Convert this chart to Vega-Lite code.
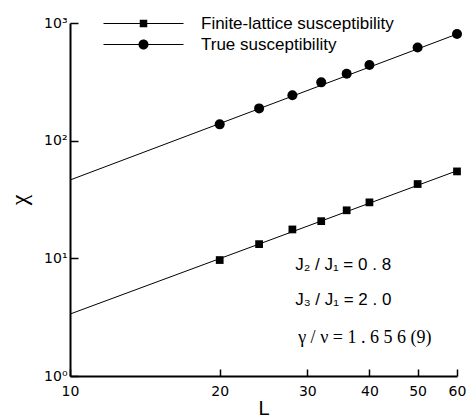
{
  "$schema": "https://vega.github.io/schema/vega-lite/v6.json",
  "width": 387,
  "height": 353,
  "autosize": {"type": "none"},
  "padding": {"left": 70, "top": 23, "right": 11, "bottom": 42},
  "background": "white",
  "config": {
    "view": {"stroke": null},
    "font": "Liberation Sans",
    "axis": {
      "labelFont": "Liberation Sans",
      "titleFont": "Liberation Sans",
      "titleFontWeight": "normal",
      "labelColor": "black",
      "titleColor": "black",
      "domainColor": "black",
      "domainWidth": 2,
      "tickColor": "black",
      "tickWidth": 1.5,
      "grid": false,
      "labelFlush": false,
      "labelOverlap": false
    }
  },
  "datasets": {
    "points": [
      {"L": 20, "chi": 9.67, "series": "Finite-lattice susceptibility"},
      {"L": 24, "chi": 13.2, "series": "Finite-lattice susceptibility"},
      {"L": 28, "chi": 17.6, "series": "Finite-lattice susceptibility"},
      {"L": 32, "chi": 20.7, "series": "Finite-lattice susceptibility"},
      {"L": 36, "chi": 25.6, "series": "Finite-lattice susceptibility"},
      {"L": 40, "chi": 29.9, "series": "Finite-lattice susceptibility"},
      {"L": 50, "chi": 42.8, "series": "Finite-lattice susceptibility"},
      {"L": 60, "chi": 54.8, "series": "Finite-lattice susceptibility"},
      {"L": 20, "chi": 137.6, "series": "True susceptibility"},
      {"L": 24, "chi": 188, "series": "True susceptibility"},
      {"L": 28, "chi": 243, "series": "True susceptibility"},
      {"L": 32, "chi": 313, "series": "True susceptibility"},
      {"L": 36, "chi": 370, "series": "True susceptibility"},
      {"L": 40, "chi": 439, "series": "True susceptibility"},
      {"L": 50, "chi": 620, "series": "True susceptibility"},
      {"L": 60, "chi": 805, "series": "True susceptibility"}
    ],
    "fits": [
      {"L": 10, "chi": 3.36, "series": "Finite-lattice susceptibility"},
      {"L": 60, "chi": 55.5, "series": "Finite-lattice susceptibility"},
      {"L": 10, "chi": 46.3, "series": "True susceptibility"},
      {"L": 60, "chi": 805, "series": "True susceptibility"}
    ],
    "notesSans": [
      {"L": 28.36, "chi": 8.03, "text": "J₂ / J₁ = 0 . 8"},
      {"L": 28.36, "chi": 4.01, "text": "J₃ / J₁ = 2 . 0"}
    ],
    "notesSerif": [
      {"L": 28.76, "chi": 1.91, "text": "γ / ν =  1 . 6 5 6 (9)"}
    ]
  },
  "encoding": {
    "x": {
      "field": "L",
      "type": "quantitative",
      "scale": {"type": "log", "domain": [10, 60], "nice": false},
      "axis": {
        "values": [10, 20, 30, 40, 50, 60],
        "format": "d",
        "labelFont": "DejaVu Sans",
        "labelFontSize": 14,
        "tickSize": -7,
        "labelPadding": 15,
        "title": "L",
        "titleFontSize": 20,
        "titlePadding": 0
      }
    },
    "y": {
      "field": "chi",
      "type": "quantitative",
      "scale": {"type": "log", "domain": [1, 1000], "nice": false},
      "axis": {
        "values": [1, 10, 100, 1000],
        "labelExpr": "datum.value == 1 ? '10⁰' : datum.value == 10 ? '10¹' : datum.value == 100 ? '10²' : '10³'",
        "labelFont": "DejaVu Sans",
        "labelFontSize": 14,
        "tickSize": -8,
        "labelPadding": 11,
        "title": "χ",
        "titleFont": "Liberation Serif",
        "titleFontSize": 24,
        "titlePadding": 12
      }
    }
  },
  "layer": [
    {
      "data": {"name": "fits"},
      "mark": {"type": "line", "color": "black", "strokeWidth": 1},
      "encoding": {"detail": {"field": "series"}}
    },
    {
      "data": {"name": "points"},
      "transform": [{"filter": "datum.L < 0"}],
      "mark": {"type": "point", "filled": true, "color": "black", "opacity": 1, "size": 100},
      "encoding": {
        "shape": {
          "field": "series",
          "type": "nominal",
          "scale": {
            "domain": ["Finite-lattice susceptibility", "True susceptibility"],
            "range": ["M-8,-0.1H8V0.1H-8ZM-0.75,-0.75H0.75V0.75H-0.75Z", "M-8,-0.1H8V0.1H-8ZM1,0A1,1,0,1,1,-1,0A1,1,0,1,1,1,0Z"]
          },
          "legend": {
            "orient": "none",
            "legendX": 65,
            "legendY": -8,
            "title": null,
            "padding": 0,
            "labelFont": "Liberation Sans",
            "labelFontSize": 17,
            "labelColor": "black",
            "labelLimit": 400,
            "labelOffset": 49,
            "symbolSize": 100,
            "rowPadding": 3,
            "symbolOpacity": 1
          }
        }
      }
    },
    {
      "data": {"name": "points"},
      "mark": {"type": "point", "filled": true, "opacity": 1, "color": "black"},
      "encoding": {
        "shape": {
          "field": "series",
          "type": "nominal",
          "scale": {
            "domain": ["Finite-lattice susceptibility", "True susceptibility"],
            "range": ["square", "circle"]
          },
          "legend": null
        },
        "size": {
          "field": "series",
          "type": "nominal",
          "scale": {
            "domain": ["Finite-lattice susceptibility", "True susceptibility"],
            "range": [60, 100]
          },
          "legend": null
        }
      }
    },
    {
      "data": {"name": "notesSans"},
      "mark": {"type": "text", "align": "left", "baseline": "alphabetic", "font": "Liberation Sans", "fontSize": 17, "color": "black"},
      "encoding": {"text": {"field": "text"}}
    },
    {
      "data": {"name": "notesSerif"},
      "mark": {"type": "text", "align": "left", "baseline": "alphabetic", "font": "Liberation Serif", "fontSize": 18, "color": "black"},
      "encoding": {"text": {"field": "text"}}
    }
  ],
  "resolve": {
    "scale": {"shape": "independent", "size": "independent"},
    "legend": {"shape": "independent"}
  }
}
